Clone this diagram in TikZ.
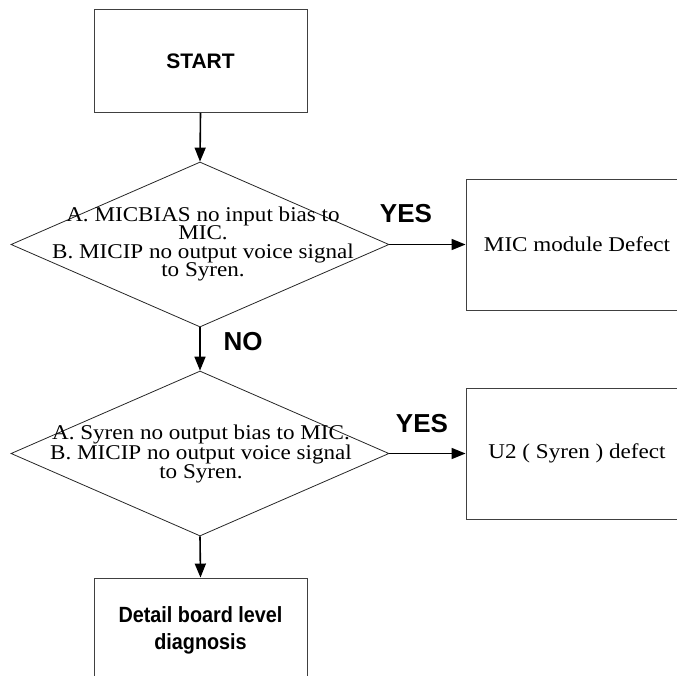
\documentclass[tikz,border=0pt]{standalone}
\usepackage{fontspec}
\setmainfont{Liberation Serif}
\newfontfamily\boxfont{Liberation Serif}[FakeStretch=1.1]
\newfontfamily\tagfont{Liberation Sans}
\newfontfamily\narrowfont{Liberation Sans}[FakeStretch=0.9]
\usetikzlibrary{arrows.meta, shapes.geometric}

\begin{document}
\begin{tikzpicture}[x=1pt, y=-1pt,
		box/.style={draw=black!75, line width=0.9pt, rectangle, inner sep=0pt},
		decision/.style={draw=black!85, line width=0.8pt, diamond, inner sep=0pt, minimum width=378pt, minimum height=165pt},
		flow/.style={line width=1.6pt, -{Triangle[length=14pt, width=11pt]}},
		serif/.style={font=\boxfont\fontsize{21}{18.5}\selectfont, align=center},
		tag/.style={font=\tagfont\bfseries\fontsize{26}{26}\selectfont}]
		\useasboundingbox (0,0) rectangle (677,675);
		\clip (0,0) rectangle (677,675);

		% what is left of the title above the chart
		\node[anchor=base west, inner sep=0pt, font=\bfseries\fontsize{28}{28}\selectfont] (title) at (326,-14) {y};

		% boxes
		\node[box, minimum width=213pt, minimum height=103pt, font=\tagfont\bfseries\fontsize{21}{21}\selectfont] (start) at (200.5,61) {START};
		\node[decision] (dec1) at (200,244.5) {};
		\node[serif] (dec1text) at (203,244) {A. MICBIAS no input bias to\\MIC.\\B. MICIP no output voice signal\\to Syren.};
		\node[box, minimum width=222pt, minimum height=131pt, serif] (mic) at (577,244.5) {MIC module Defect};
		\node[decision] (dec2) at (200,453.5) {};
		\node[serif] (dec2text) at (201,454) {A. Syren no output bias to MIC.\\B. MICIP no output voice signal\\to Syren.};
		\node[box, minimum width=222pt, minimum height=131pt, serif] (u2) at (577,453.5) {U2 ( Syren ) defect};
		\node[box, minimum width=213pt, minimum height=104pt, align=center, font=\narrowfont\bfseries\fontsize{22}{27}\selectfont] (detail) at (200.5,630) {Detail board level\\diagnosis};

		% answers
		\node[tag] (yes1) at (406,214) {YES};
		\node[tag] (no1) at (243,342) {NO};
		\node[tag] (yes2) at (422,424) {YES};

		% arrows
		\draw[flow] (start.south) -- (dec1.north);
		\draw[flow] (dec1.east) -- (mic.west);
		\draw[flow] (dec1.south) -- (dec2.north);
		\draw[flow] (dec2.east) -- (u2.west);
		\draw[flow] (dec2.south) -- (detail.north);
	\end{tikzpicture}
\end{document}
